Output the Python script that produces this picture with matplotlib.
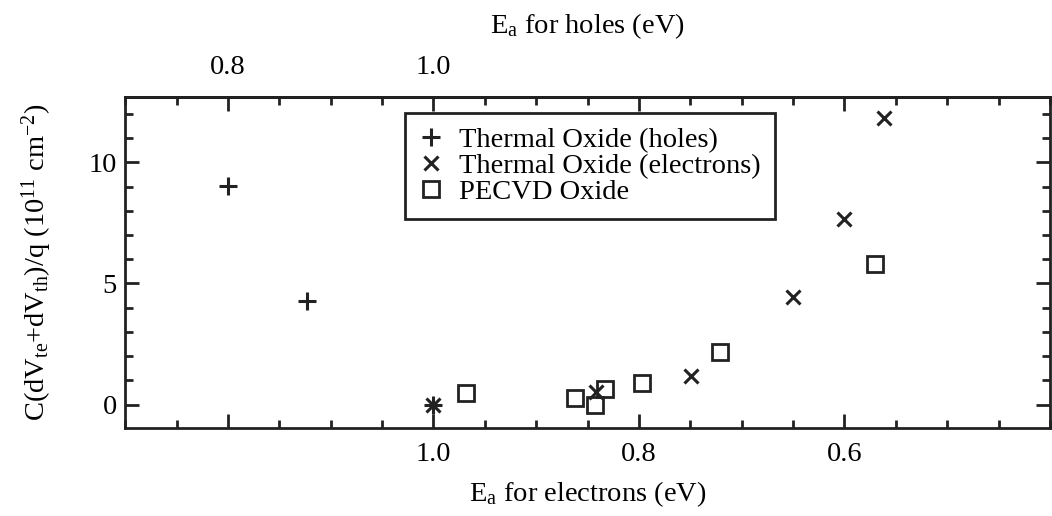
import matplotlib
matplotlib.use("Agg")
import matplotlib.pyplot as plt
from matplotlib.ticker import FixedLocator, FixedFormatter, MultipleLocator

plt.rcParams['font.family'] = 'Liberation Serif'
plt.rcParams['mathtext.fontset'] = 'custom'
plt.rcParams['mathtext.rm'] = 'Liberation Serif'
plt.rcParams['mathtext.it'] = 'Liberation Serif:italic'

# data (x = Ea for electrons in eV)
holes_x = [1.200, 1.123, 1.000]
holes_y = [9.03, 4.27, 0.00]
elec_x = [1.000, 0.842, 0.749, 0.650, 0.600, 0.561]
elec_y = [0.00, 0.51, 1.18, 4.44, 7.67, 11.85]
pecvd_x = [0.968, 0.862, 0.843, 0.833, 0.797, 0.721, 0.570]
pecvd_y = [0.49, 0.28, 0.00, 0.63, 0.90, 2.15, 5.80]

bottom_ticks = [1.2, 1.0, 0.8, 0.6]
bottom_labels = ['', '1.0', '0.8', '0.6']
top_ticks = [0.8, 1.0, 1.2, 1.4]
top_labels = ['0.8', '1.0', '', '']

fs = 20.5
fig = plt.figure(figsize=(10.52, 5.16), dpi=100)
ax = fig.add_axes([0.119, 0.1705, 0.879, 0.6415])

ax.plot(holes_x, holes_y, '+', color='#222222', ms=13, mew=2.2, label='Thermal Oxide (holes)')
ax.plot(elec_x, elec_y, 'x', color='#222222', ms=10.5, mew=2.2, label='Thermal Oxide (electrons)')
ax.plot(pecvd_x, pecvd_y, 's', mfc='none', mec='#222222', ms=12, mew=2.0, label='PECVD Oxide')

ax.set_xlim(1.3, 0.4)
ax.set_ylim(-0.97, 12.7)

ax.xaxis.set_major_locator(FixedLocator(bottom_ticks))
ax.xaxis.set_major_formatter(FixedFormatter(bottom_labels))
ax.xaxis.set_minor_locator(MultipleLocator(0.05))
ax.yaxis.set_major_locator(MultipleLocator(5))
ax.yaxis.set_minor_locator(MultipleLocator(1))
ax.tick_params(which='both', direction='in', top=False, right=True, labelsize=fs, width=2, color='#222222')
ax.tick_params(which='major', length=10, pad=10)
ax.tick_params(axis='y', which='major', pad=6)
ax.tick_params(which='minor', length=6)
for s in ax.spines.values():
    s.set_linewidth(2)
    s.set_color('#222222')

sec = ax.secondary_xaxis('top', functions=(lambda e: 2.0 - e, lambda h: 2.0 - h))
sec.xaxis.set_major_locator(FixedLocator(top_ticks))
sec.xaxis.set_major_formatter(FixedFormatter(top_labels))
sec.xaxis.set_minor_locator(MultipleLocator(0.05))
sec.tick_params(which='both', direction='in', labelsize=fs, width=2, color='#222222')
sec.tick_params(which='major', length=10, pad=12)
sec.tick_params(which='minor', length=6)
sec.spines['top'].set_linewidth(2)
sec.set_xlabel(r'E$_{\rm a}$ for holes (eV)', fontsize=fs, labelpad=16)

ax.set_xlabel(r'E$_{\rm a}$ for electrons (eV)', fontsize=fs, labelpad=9)
ax.set_ylabel(r'C(dV$_{\rm te}$+dV$_{\rm th}$)/q (10$^{11}$ cm$^{-2}$)', fontsize=fs, labelpad=25)

leg = ax.legend(loc='upper left', bbox_to_anchor=(0.303, 0.952), borderaxespad=0,
                fontsize=fs, fancybox=False, framealpha=1, edgecolor='#222222',
                handlelength=0.8, handletextpad=0.6, labelspacing=0.0, borderpad=0.5)
leg.get_frame().set_linewidth(2)

fig.savefig('out.png', dpi=100)
